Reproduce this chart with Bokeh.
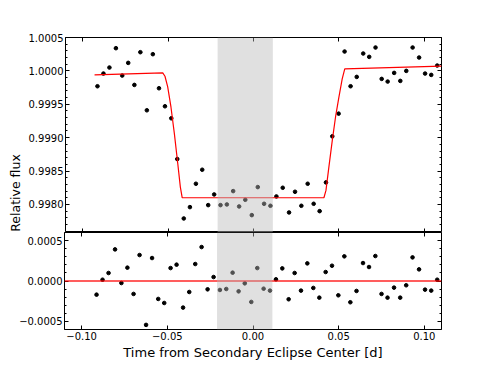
from math import pi
from bokeh.plotting import figure
from bokeh.layouts import column, row
from bokeh.models import LinearAxis, FixedTicker, BoxAnnotation, Span, Label, Range1d
from bokeh.embed import file_html
from bokeh.resources import INLINE

# ---------------- data ----------------
time = [-0.0913, -0.0878, -0.0843, -0.0805, -0.0768, -0.0733, -0.0697, -0.0662,
        -0.0624, -0.0589, -0.0553, -0.0518, -0.0481, -0.0446, -0.0408, -0.0372,
        -0.0337, -0.0300, -0.0265, -0.0230, -0.0193, -0.0156, -0.0119, -0.0084,
        -0.0048, -0.0010, 0.0025, 0.0062, 0.0099, 0.0134, 0.0171, 0.0208,
        0.0243, 0.0280, 0.0317, 0.0352, 0.0387, 0.0424, 0.0461, 0.0498,
        0.0533, 0.0568, 0.0604, 0.0642, 0.0677, 0.0714, 0.0750, 0.0785,
        0.0823, 0.0859, 0.0894, 0.0931, 0.0969, 0.1004, 0.1040, 0.1075]

flux = [0.99977, 0.99996, 1.00005, 1.00034, 0.99993, 1.00012, 0.99979, 1.00028,
        0.99941, 1.00025, 0.99974, 0.99947, 0.99929, 0.99868, 0.99779, 0.99796,
        0.99831, 0.99852, 0.99799, 0.99815, 0.99799, 0.99800, 0.99820, 0.99797,
        0.99807, 0.99784, 0.99826, 0.99801, 0.99798, 0.99812, 0.99825, 0.99788,
        0.99819, 0.99798, 0.99831, 0.99801, 0.99790, 0.99833, 0.99902, 0.99936,
        1.00029, 0.99977, 0.99991, 1.00026, 1.00021, 1.00035, 0.99988, 0.99984,
        0.99997, 0.99985, 1.00000, 1.00035, 1.00020, 0.99996, 0.99994, 1.00008]

residual = [-0.000169, 0.000016, 0.000099, 0.000391, -0.000025, 0.000165, -0.000160, 0.000321,
            -0.000543, 0.000284, -0.000222, -0.000272, 0.000160, 0.000202, -0.000329, -0.000136,
            0.000210, 0.000420, -0.000103, 0.000049, -0.000111, -0.000099, 0.000103, -0.000128,
            -0.000029, -0.000259, 0.000160, -0.000095, -0.000119, 0.000021, 0.000156, -0.000226,
            0.000099, -0.000119, 0.000218, -0.000086, -0.000206, 0.000111, 0.000189, -0.000177,
            0.000305, -0.000263, -0.000123, 0.000222, 0.000173, 0.000309, -0.000160, -0.000206,
            -0.000082, -0.000206, -0.000053, 0.000292, 0.000144, -0.000107, -0.000119, 0.000016]

model_time = [-0.0930, -0.0531, -0.0518, -0.0502, -0.0483, -0.0463, -0.0443, -0.0428, -0.0417,
              0.0412, 0.0424, 0.0441, 0.0461, 0.0480, 0.0500, 0.0519, 0.0534, 0.1100]
model_flux = [0.99994, 0.99997, 0.99992, 0.99976, 0.99946, 0.99906, 0.99861, 0.99826, 0.99810,
              0.99810, 0.99821, 0.99856, 0.99896, 0.99931, 0.99961, 0.99988, 1.00003, 1.00007]

residual_model = 0.0

shade_start = -0.021
shade_end = 0.0113

x_ticks = [-0.10, -0.05, 0.0, 0.05, 0.10]
x_tick_labels = ["\u22120.10", "\u22120.05", "0.00", "0.05", "0.10"]
flux_ticks = [0.9980, 0.9985, 0.9990, 0.9995, 1.0000, 1.0005]
flux_tick_labels = ["0.9980", "0.9985", "0.9990", "0.9995", "1.0000", "1.0005"]
resid_ticks = [-0.0005, 0.0, 0.0005]
resid_tick_labels = ["\u22120.0005", "0.0000", "0.0005"]

flux_minor = [round(0.9976 + 0.0001 * i, 4) for i in range(30)]
resid_minor = [round(-0.0006 + 0.0001 * i, 4) for i in range(13)]

y_title = "Relative flux"
x_title = "Time from Secondary Eclipse Center [d]"

FONT = "DejaVu Sans"

x_range = Range1d(-0.11, 0.11)


def style_axis(ax, ticker, ticks, labels, show_labels):
    ax.ticker = ticker
    ax.axis_line_color = None
    ax.major_tick_in = 4
    ax.major_tick_out = 0
    ax.minor_tick_in = 2
    ax.minor_tick_out = 0
    ax.major_tick_line_color = "black"
    ax.minor_tick_line_color = "black"
    ax.major_label_text_font = FONT
    ax.axis_label_text_font = FONT
    ax.axis_label_text_font_style = "normal"
    ax.axis_label_text_color = "black"
    ax.major_label_text_color = "black"
    if show_labels:
        ax.major_label_overrides = dict(zip(ticks, labels))
        ax.major_label_text_font_size = "10px"
    else:
        ax.major_label_overrides = {t: "" for t in ticks}
        ax.major_label_text_font_size = "1px"
        ax.major_label_standoff = 0
        ax.axis_label_standoff = 0


def make_fig(width, y_range, height, left, top, bottom):
    p = figure(width=width, height=height, x_range=x_range, y_range=y_range,
               toolbar_location=None, output_backend="svg",
               min_border_left=left, min_border_right=34,
               min_border_top=top, min_border_bottom=bottom)
    p.grid.visible = False
    p.outline_line_color = "black"
    p.outline_line_width = 1
    p.background_fill_color = "white"
    p.border_fill_color = "white"
    return p


x_ticker = FixedTicker(ticks=x_ticks, minor_ticks=[])
f_ticker = FixedTicker(ticks=flux_ticks, minor_ticks=flux_minor)
r_ticker = FixedTicker(ticks=resid_ticks, minor_ticks=resid_minor)

# ---------------- y-title strip ----------------
lab = figure(width=25, height=232, x_range=Range1d(0, 25), y_range=Range1d(232, 0),
             toolbar_location=None, output_backend="svg",
             x_axis_location=None, y_axis_location=None,
             min_border_left=0, min_border_right=0, min_border_top=0, min_border_bottom=0)
lab.grid.visible = False
lab.outline_line_color = None
lab.background_fill_color = "white"
lab.border_fill_color = "white"
lab.add_layout(Label(x=15, y=185, text=y_title, angle=pi / 2, text_align="center",
                     text_baseline="middle", text_font=FONT, text_font_size="12.5px",
                     text_color="black"))

# ---------------- top panel ----------------
top = make_fig(450, Range1d(0.99758, 1.0005), 232, 39, 37, 0)
top.scatter(time, flux, size=3.6, color="black")
top.line(model_time, model_flux, line_color="red", line_width=1.2)
top.add_layout(BoxAnnotation(left=shade_start, right=shade_end, fill_color="#b8b8b8",
                             fill_alpha=0.44, line_color=None))

style_axis(top.xaxis[0], x_ticker, x_ticks, x_tick_labels, False)
style_axis(top.yaxis[0], f_ticker, flux_ticks, flux_tick_labels, True)
top.yaxis[0].major_label_standoff = 2
ax_top = LinearAxis()
style_axis(ax_top, x_ticker, x_ticks, x_tick_labels, False)
top.add_layout(ax_top, "above")
ax_right = LinearAxis()
style_axis(ax_right, f_ticker, flux_ticks, flux_tick_labels, False)
top.add_layout(ax_right, "right")

# ---------------- bottom panel ----------------
bot = make_fig(475, Range1d(-0.0006, 0.0006), 134, 64, 0, 37)
bot.scatter(time, residual, size=3.6, color="black")
bot.add_layout(Span(location=residual_model, dimension="width", line_color="red",
                    line_width=1.5, line_alpha=0.85))
bot.add_layout(BoxAnnotation(left=shade_start, right=shade_end, fill_color="#b8b8b8",
                             fill_alpha=0.44, line_color=None))

style_axis(bot.xaxis[0], x_ticker, x_ticks, x_tick_labels, True)
bot.xaxis[0].major_label_standoff = 2
bot.xaxis[0].axis_label = x_title
bot.xaxis[0].axis_label_text_font_size = "13px"
bot.xaxis[0].axis_label_standoff = 2
style_axis(bot.yaxis[0], r_ticker, resid_ticks, resid_tick_labels, True)
bot.yaxis[0].major_label_standoff = 2
ax_top2 = LinearAxis()
style_axis(ax_top2, x_ticker, x_ticks, x_tick_labels, False)
bot.add_layout(ax_top2, "above")
ax_right2 = LinearAxis()
style_axis(ax_right2, r_ticker, resid_ticks, resid_tick_labels, False)
bot.add_layout(ax_right2, "right")

layout = column(row(lab, top, spacing=0), bot, spacing=0)

open("out.html", "w").write(file_html(layout, INLINE))
